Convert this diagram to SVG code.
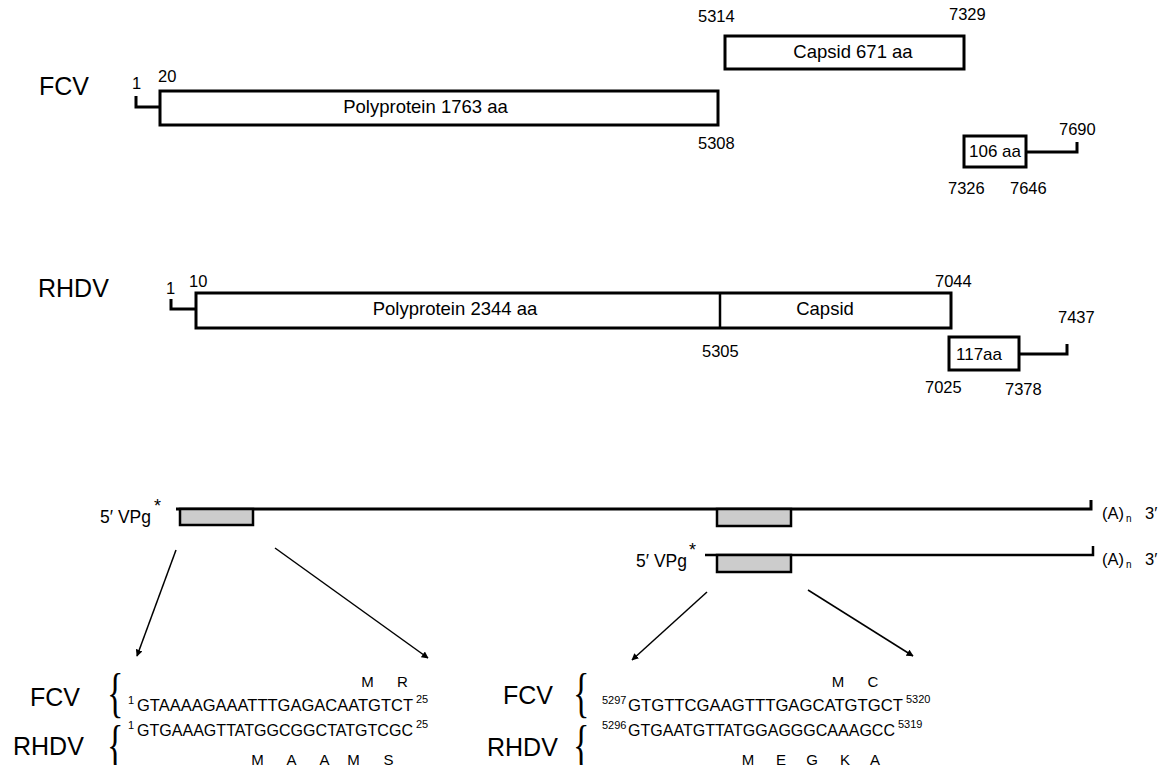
<svg xmlns="http://www.w3.org/2000/svg" width="1161" height="765" viewBox="0 0 1161 765">
<style>
text{font-family:"Liberation Sans",Arial,sans-serif;fill:#000}
.lab{font-size:25px}
.num{font-size:16.5px}
.box{font-size:18.5px}
.sbox{font-size:17px}
.seq{font-size:17px}
.sup{font-size:11px}
.aa{font-size:15px;text-anchor:middle}
.brace{font-family:"Liberation Serif","Times New Roman",serif;font-size:36px}
.orf{fill:#fff;stroke:#000;stroke-width:3}
.grey{fill:#cccccc;stroke:#000;stroke-width:2.5}
.ln{fill:none;stroke:#000;stroke-width:3}
.arr{fill:none;stroke:#000;stroke-width:1.5;marker-end:url(#ah)}
</style>
<defs>
<marker id="ah" viewBox="0 0 10 10" refX="9" refY="5" markerWidth="7" markerHeight="7" markerUnits="userSpaceOnUse" orient="auto"><path d="M0,0 L10,5 L0,10 z" fill="#000"/></marker>
</defs>
<rect width="1161" height="765" fill="#fff"/>

<g id="fcv-map">
<text class="lab" x="39" y="95">FCV</text>
<text class="num" x="132" y="89">1</text>
<text class="num" x="158" y="82">20</text>
<path class="ln" d="M136,96 V107 H160"/>
<g id="fcv-poly">
<rect class="orf" x="160" y="91" width="558" height="34"/>
<text class="box" x="425.5" y="113" text-anchor="middle">Polyprotein 1763 aa</text>
</g>
<text class="num" x="698" y="149">5308</text>
<g id="fcv-capsid">
<rect class="orf" x="725" y="36" width="239" height="33"/>
<text class="box" x="853" y="58" text-anchor="middle">Capsid 671 aa</text>
</g>
<text class="num" x="698" y="22">5314</text>
<text class="num" x="949" y="20">7329</text>
<g id="fcv-orf3">
<rect class="orf" x="964" y="136" width="62" height="31"/>
<text class="sbox" x="995" y="157" text-anchor="middle">106 aa</text>
</g>
<path class="ln" d="M1026,152 H1077 V142"/>
<text class="num" x="1059" y="135">7690</text>
<text class="num" x="948" y="194">7326</text>
<text class="num" x="1010" y="194">7646</text>
</g>

<g id="rhdv-map">
<text class="lab" x="38" y="297">RHDV</text>
<text class="num" x="166" y="294">1</text>
<text class="num" x="189" y="287">10</text>
<path class="ln" d="M171,299 V309 H196"/>
<g id="rhdv-poly">
<rect class="orf" x="196" y="293" width="755" height="35"/>
<line x1="720" y1="293" x2="720" y2="328" stroke="#000" stroke-width="2.5"/>
<text class="box" x="455" y="315" text-anchor="middle">Polyprotein 2344 aa</text>
<text class="box" x="825" y="315" text-anchor="middle">Capsid</text>
</g>
<text class="num" x="935" y="287">7044</text>
<text class="num" x="702" y="357">5305</text>
<g id="rhdv-orf2">
<rect class="orf" x="949" y="337" width="70" height="33"/>
<text class="sbox" x="956" y="360">117aa</text>
</g>
<path class="ln" d="M1019,354 H1067 V344"/>
<text class="num" x="1058" y="323">7437</text>
<text class="num" x="925" y="393">7025</text>
<text class="num" x="1005" y="395">7378</text>
</g>

<g id="genome-1">
<text class="num" x="100" y="523" style="font-size:17.5px">5′ VPg</text>
<text class="num" x="154" y="512" style="font-size:18px">*</text>
<path class="ln" d="M176,509 H1091 V500"/>
<rect class="grey" x="180" y="509" width="73" height="16"/>
<rect class="grey" x="717" y="509" width="74" height="17"/>
<text class="num" x="1102" y="519">(A)</text>
<text x="1126" y="522" style="font-size:10px">n</text>
<text class="num" x="1145" y="519">3′</text>
</g>

<g id="genome-2">
<text class="num" x="636" y="567" style="font-size:17.5px">5′ VPg</text>
<text class="num" x="689" y="556" style="font-size:18px">*</text>
<path class="ln" d="M705,555 H1093 V546" style="stroke-width:2.5"/>
<rect class="grey" x="717" y="555" width="74" height="17"/>
<text class="num" x="1102" y="565">(A)</text>
<text x="1126" y="568" style="font-size:10px">n</text>
<text class="num" x="1145" y="565">3′</text>
</g>

<g id="connectors">
<line class="arr" x1="176" y1="550" x2="137" y2="656"/>
<line class="arr" x1="275" y1="548" x2="428" y2="658"/>
<line class="arr" x1="707" y1="592" x2="632" y2="660"/>
<line class="arr" x1="808" y1="590" x2="913" y2="656"/>
</g>

<g id="seq-left">
<text class="lab" x="30" y="706">FCV</text>
<text class="brace" transform="translate(107,711) scale(0.95,1.5)">{</text>
<text class="aa" x="367.5" y="687">M</text>
<text class="aa" x="402.5" y="687">R</text>
<text class="sup" x="128" y="704">1</text>
<text class="seq" x="137" y="711" textLength="276" lengthAdjust="spacingAndGlyphs">GTAAAAGAAATTTGAGACAATGTCT</text>
<text class="sup" x="416" y="703">25</text>
<text class="lab" x="13" y="755">RHDV</text>
<text class="brace" transform="translate(107,763) scale(0.95,1.5)">{</text>
<text class="sup" x="128" y="729">1</text>
<text class="seq" x="137" y="736" textLength="276" lengthAdjust="spacingAndGlyphs">GTGAAAGTTATGGCGGCTATGTCGC</text>
<text class="sup" x="416" y="728">25</text>
<text class="aa" x="257.5" y="765">M</text>
<text class="aa" x="291.5" y="765">A</text>
<text class="aa" x="324.5" y="765">A</text>
<text class="aa" x="353.5" y="765">M</text>
<text class="aa" x="388.5" y="765">S</text>
</g>

<g id="seq-right">
<text class="lab" x="503" y="704">FCV</text>
<text class="brace" transform="translate(573,711) scale(0.95,1.5)">{</text>
<text class="aa" x="838" y="687">M</text>
<text class="aa" x="873" y="687">C</text>
<text class="sup" x="602" y="704">5297</text>
<text class="seq" x="628" y="711" textLength="275" lengthAdjust="spacingAndGlyphs">GTGTTCGAAGTTTGAGCATGTGCT</text>
<text class="sup" x="906" y="703">5320</text>
<text class="lab" x="487" y="756">RHDV</text>
<text class="brace" transform="translate(573,763) scale(0.95,1.5)">{</text>
<text class="sup" x="602" y="729">5296</text>
<text class="seq" x="628" y="736" textLength="267" lengthAdjust="spacingAndGlyphs">GTGAATGTTATGGAGGGCAAAGCC</text>
<text class="sup" x="898" y="728">5319</text>
<text class="aa" x="748" y="765">M</text>
<text class="aa" x="781" y="765">E</text>
<text class="aa" x="812" y="765">G</text>
<text class="aa" x="845" y="765">K</text>
<text class="aa" x="875" y="765">A</text>
</g>
</svg>
